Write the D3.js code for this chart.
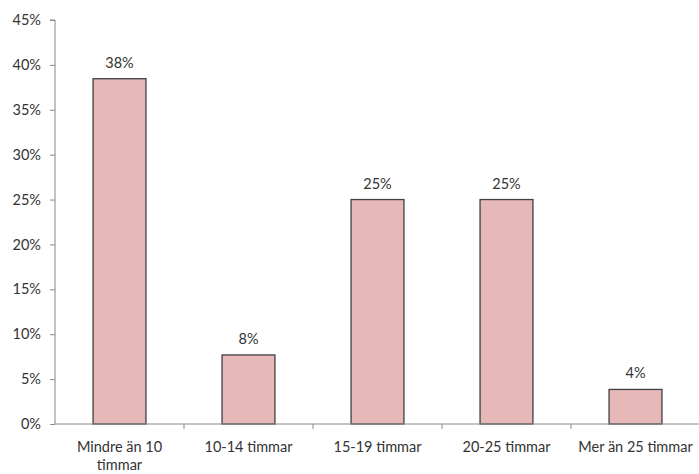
<!DOCTYPE html>
<html><head><meta charset="utf-8">
<script src="https://cdn.jsdelivr.net/npm/d3@7"></script>
<style>body{margin:0;background:#fff}svg{display:block}text{font-family:Lato,"Open Sans",sans-serif;fill:#333}</style>
</head><body><svg id="c" width="699" height="474"></svg>
<script>
const categories = ["Mindre än 10 timmar","10-14 timmar","15-19 timmar","20-25 timmar","Mer än 25 timmar"];
const values = [0.3846, 0.0769, 0.25, 0.25, 0.0385];
const dataLabels = ["38%","8%","25%","25%","4%"];
const yTicks = [0,0.05,0.10,0.15,0.20,0.25,0.30,0.35,0.40,0.45];

const FS = 14.5;
const svg = d3.select("#c");
const m = {l:55, t:20, r:-1, b:50};
const W = 699, H = 474;
const x = d3.scaleBand().domain(categories).range([m.l, W - m.r]).paddingInner(0.59).paddingOuter(0.295);
const xb = d3.scaleBand().domain(categories).range([m.l, W - m.r]);
const y = d3.scaleLinear().domain([0,0.45]).range([424, 20]);

// y axis
const gy = svg.append("g").attr("transform",`translate(${m.l},0)`)
  .call(d3.axisLeft(y).tickValues(yTicks).tickFormat(d3.format(".0%")).tickSize(5).tickPadding(9));
gy.select(".domain").attr("stroke","#888").attr("d",`M-5,${y(0.45)}H0V${y(0)}`);
gy.selectAll(".tick line").attr("stroke","#888");
gy.selectAll(".tick text").attr("font-size",FS).attr("font-family","Lato, sans-serif").attr("fill","#333");

// bars
svg.selectAll("rect.bar").data(values).join("rect").attr("class","bar")
  .attr("x",(d,i)=>x(categories[i])).attr("width",x.bandwidth())
  .attr("y",d=>y(d)).attr("height",d=>y(0)-y(d))
  .attr("fill","#E6B9B8").attr("stroke","#404040").attr("stroke-width",1.3);

// x axis
const gx = svg.append("g").attr("transform",`translate(0,${y(0)})`);
gx.append("line").attr("x1",m.l).attr("x2",W).attr("stroke","#888");
categories.forEach((c,i)=>{
  const xp = xb(c) + xb.bandwidth();
  gx.append("line").attr("x1",xp).attr("x2",xp).attr("y1",0).attr("y2",5).attr("stroke","#888");
});
const lines = [["Mindre än 10","timmar"],["10-14 timmar"],["15-19 timmar"],["20-25 timmar"],["Mer än 25 timmar"]];
categories.forEach((c,i)=>{
  const t = gx.append("text").attr("text-anchor","middle").attr("font-size",FS)
    .attr("x", xb(c)+xb.bandwidth()/2).attr("y",28);
  lines[i].forEach((s,j)=>t.append("tspan").attr("x",xb(c)+xb.bandwidth()/2).attr("dy",j?18:0).text(s));
});

// data labels
svg.selectAll("text.lbl").data(values).join("text").attr("class","lbl")
  .attr("text-anchor","middle").attr("font-size",FS)
  .attr("x",(d,i)=>x(categories[i])+x.bandwidth()/2).attr("y",d=>y(d)-11)
  .text((d,i)=>dataLabels[i]);
</script></body></html>
